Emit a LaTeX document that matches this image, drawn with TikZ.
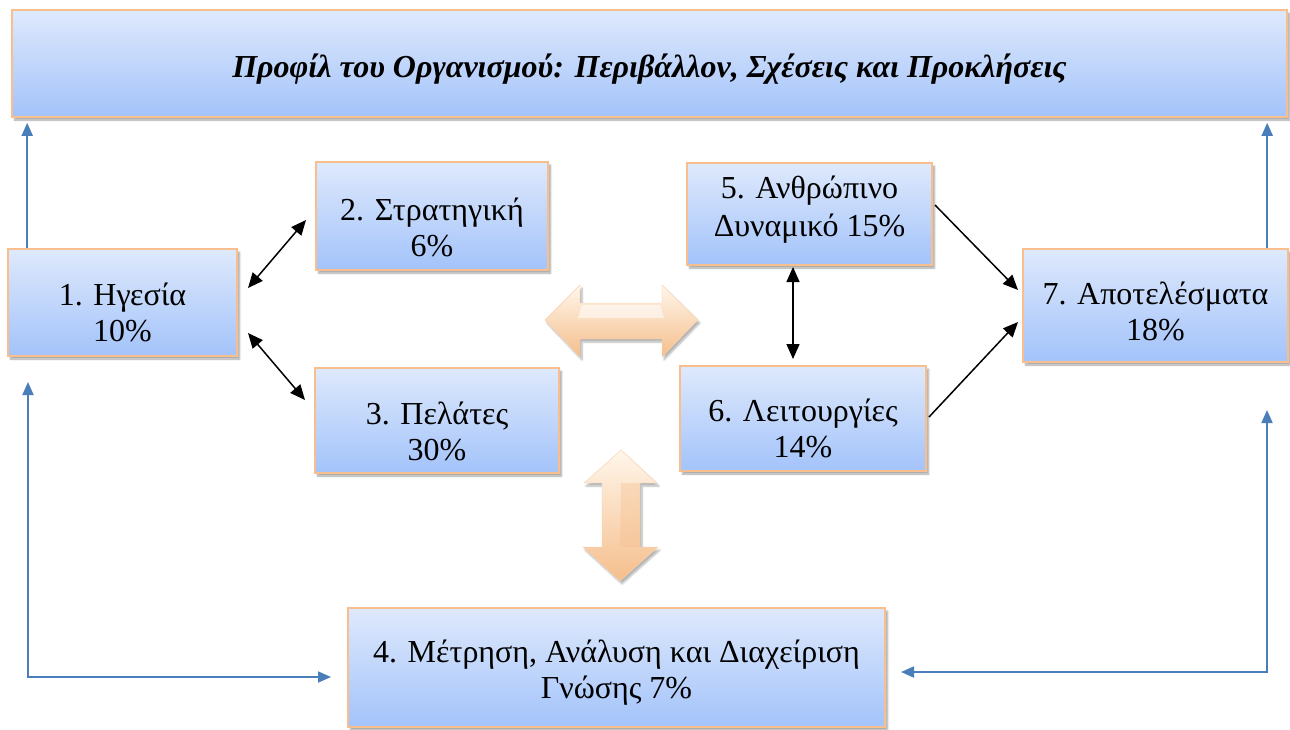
\documentclass[tikz,border=0pt]{standalone}
\usepackage{fontspec}
\setmainfont{Liberation Serif}
\usetikzlibrary{arrows.meta,shadows.blur,calc}

\definecolor{boxtop}{RGB}{222,233,252}
\definecolor{boxbot}{RGB}{163,195,250}
\definecolor{boxline}{RGB}{249,190,142}
\definecolor{linkblue}{RGB}{74,126,187}
\definecolor{peachlight}{RGB}{255,246,234}
\definecolor{peachdark}{RGB}{245,190,140}

\tikzset{
  card/.style={draw=boxline, line width=1.6pt, top color=boxtop, bottom color=boxbot,
    inner sep=0pt,
    blur shadow={shadow xshift=2.5pt, shadow yshift=-3pt, shadow blur steps=6, shadow opacity=35}},
  cardtext/.style={align=center, inner sep=0pt, font=\fontsize{32}{36}\selectfont},
  loop/.style={draw=linkblue, line width=1.8pt, -{Triangle[length=13pt,width=11pt]}},
  looptwo/.style={draw=linkblue, line width=1.8pt, {Triangle[length=13pt,width=11pt]}-{Triangle[length=13pt,width=11pt]}},
  link/.style={draw=black, line width=1.5pt, {Triangle[length=15pt,width=13pt]}-{Triangle[length=15pt,width=13pt]}},
  linkone/.style={draw=black, line width=1.5pt, -{Triangle[length=15pt,width=13pt]}},
  fatarrow/.style={draw=peachdark!70!white, line width=0.4pt,
    blur shadow={shadow xshift=2pt, shadow yshift=-3pt, shadow blur steps=6, shadow opacity=30}}
}

\begin{document}
\begin{tikzpicture}[x=1pt,y=-1pt]
\useasboundingbox (0,0) rectangle (1290,729);

% boxes
\node[card, minimum width=1275pt, minimum height=107pt] (title) at (649.5,63.5) {};
\node[card, minimum width=229pt, minimum height=107pt] (b1) at (122.5,302.5) {};
\node[card, minimum width=232pt, minimum height=108pt] (b2) at (432,216) {};
\node[card, minimum width=244pt, minimum height=105pt] (b3) at (437,420.5) {};
\node[card, minimum width=245pt, minimum height=102pt] (b5) at (809.5,214) {};
\node[card, minimum width=246pt, minimum height=105pt] (b6) at (803,418.5) {};
\node[card, minimum width=265pt, minimum height=113pt] (b7) at (1155.5,305.5) {};
\node[card, minimum width=537pt, minimum height=119pt] (b4) at (616.5,667.5) {};

% box captions
\node[cardtext, font=\fontsize{32}{36}\selectfont\bfseries\itshape] (titletext) at (649.5,69.5)
  {Προφίλ του Οργανισμού: Περιβάλλον, Σχέσεις και Προκλήσεις};
\node[cardtext] (b1text) at (122.5,312) {1. Ηγεσία\\10\%};
\node[cardtext] (b2text) at (432,227) {2. Στρατηγική\\6\%};
\node[cardtext] (b3text) at (437,431) {3. Πελάτες\\30\%};
\node[cardtext, font=\fontsize{32}{38}\selectfont] (b5text) at (809.5,210) {5. Ανθρώπινο\\Δυναμικό 15\%};
\node[cardtext] (b6text) at (803,428.5) {6. Λειτουργίες\\14\%};
\node[cardtext] (b7text) at (1155.5,311.5) {7. Αποτελέσματα\\18\%};
\node[cardtext] (b4text) at (616.5,673) {4. Μέτρηση, Ανάλυση και Διαχείριση\\Γνώσης 7\%};

% horizontal block arrow
\path[fatarrow, top color=peachlight, bottom color=peachdark]
  (545,320) -- (580,285) -- (580,303) -- (662,303) -- (662,285) -- (698,320)
  -- (662,357) -- (662,339) -- (580,339) -- (580,357) -- cycle;
\fill[white, opacity=0.55] (582,305) -- (660,305) -- (664,318) -- (578,318) -- cycle;

% vertical block arrow
\path[fatarrow, top color=peachlight, bottom color=peachdark]
  (621,450) -- (657,483) -- (640,483) -- (640,547) -- (658,547) -- (620,581)
  -- (583,547) -- (602,547) -- (602,483) -- (584,483) -- cycle;
\fill[peachdark, opacity=0.35] (621,483) -- (640,483) -- (640,547) -- (620,547) -- cycle;

% blue feedback connectors
\coordinate (t1) at ([xshift=20pt]b1.north west);
\coordinate (t7) at ([xshift=245pt]b7.north west);
\draw[loop, shorten >=5pt] (t1) -- (t1 |- title.south);
\draw[loop, shorten >=5pt] (t7) -- (t7 |- title.south);

\coordinate (la) at (28,382);
\coordinate (lb) at (331,677);
\draw[looptwo] (la) |- (lb);
\coordinate (ra) at (1267,410);
\coordinate (rb) at (901,672);
\draw[looptwo] (ra) |- (rb);

% black links between criteria
\coordinate (a12) at (248,288);
\coordinate (a21) at (306,220);
\coordinate (a13) at (248,333);
\coordinate (a31) at (305,400);
\coordinate (a56) at (793,267);
\coordinate (a65) at (793,359);
\coordinate (a57) at (935,205);
\coordinate (a75) at (1018,290);
\coordinate (a67) at (929,417);
\coordinate (a76) at (1018,322);
\draw[link] (a12) -- (a21);
\draw[link] (a13) -- (a31);
\draw[link] (a56) -- (a65);
\draw[linkone] (a57) -- (a75);
\draw[linkone] (a67) -- (a76);
\end{tikzpicture}
\end{document}
